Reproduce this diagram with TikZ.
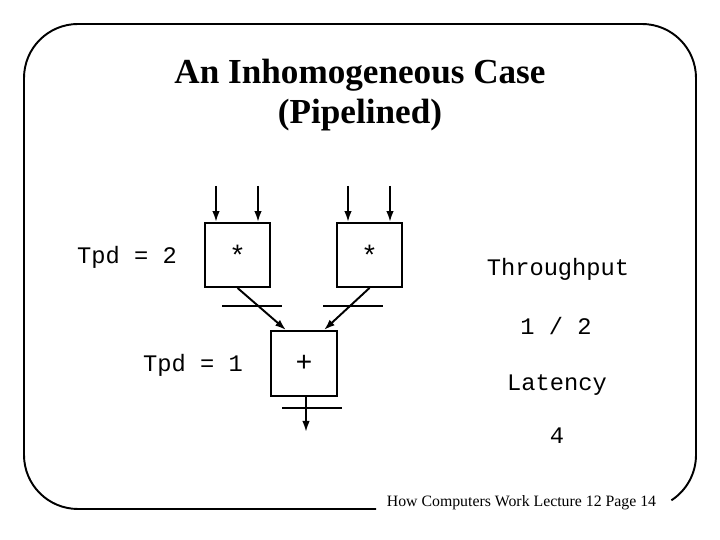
\documentclass[tikz,border=0pt]{standalone}
\usepackage{fontspec}
\setmainfont{Liberation Serif}
\setmonofont{Liberation Mono}
\usetikzlibrary{arrows.meta,positioning}
\begin{document}
\begin{tikzpicture}[line width=1.1pt,>={Latex[length=2.2mm,width=1.5mm]},unit/.style={draw,minimum width=1.3cm,minimum height=1.28cm,font=\ttfamily\fontsize{16}{18}\selectfont},code/.style={font=\ttfamily\fontsize{13.5}{16}\selectfont}]
\useasboundingbox (0,0) rectangle (14.4,10.8);
\draw (7.52,0.62) -- (1.56,0.62) arc[start angle=270,end angle=180,radius=1.08] -- (0.48,9.24) arc[start angle=180,end angle=90,radius=1.08] -- (12.84,10.32) arc[start angle=90,end angle=0,radius=1.08] -- (13.92,1.70) arc[start angle=0,end angle=-57,radius=1.08];
\node[font=\bfseries\fontsize{20}{22.5}\selectfont,align=center] (title) at (7.2,8.90) {An Inhomogeneous Case\\(Pipelined)};
\node[unit] (m1) at (4.75,5.70) {\raisebox{-.35ex}{*}};
\node[unit] (m2) at (7.39,5.70) {\raisebox{-.35ex}{*}};
\node[unit,minimum width=1.32cm,minimum height=1.3cm] (add) at (6.08,3.53) {+};
\coordinate (a1) at (4.32,7.08);
\coordinate (b1) at (5.16,7.08);
\coordinate (a2) at (6.96,7.08);
\coordinate (b2) at (7.80,7.08);
\coordinate (out) at (6.12,2.16);
\draw[->] (a1) -- (a1 |- m1.north);
\draw[->] (b1) -- (b1 |- m1.north);
\draw[->] (a2) -- (a2 |- m2.north);
\draw[->] (b2) -- (b2 |- m2.north);
\draw[->] (m1.south) -- ([xshift=-0.36cm]add.north);
\draw[->] (m2.south) -- ([xshift=0.40cm]add.north);
\draw[->] (out |- add.south) -- (out);
\draw (4.44,4.68) -- (5.64,4.68);
\draw (6.46,4.68) -- (7.66,4.68);
\draw (5.64,2.64) -- (6.84,2.64);
\node[code] (tpd2) at (2.54,5.66) {Tpd = 2};
\node[code] (tpd1) at (3.86,3.50) {Tpd = 1};
\node[code] (thru) at (11.16,5.42) {Throughput};
\node[code] (rate) at (11.12,4.28) {1 / 2};
\node[code] (lat) at (11.14,3.10) {Latency};
\node[code] (latv) at (11.14,2.08) {4};
\node[font=\fontsize{9}{11}\selectfont] (foot) at (10.43,0.74) {How Computers Work Lecture 12 Page 14};
\end{tikzpicture}
\end{document}
